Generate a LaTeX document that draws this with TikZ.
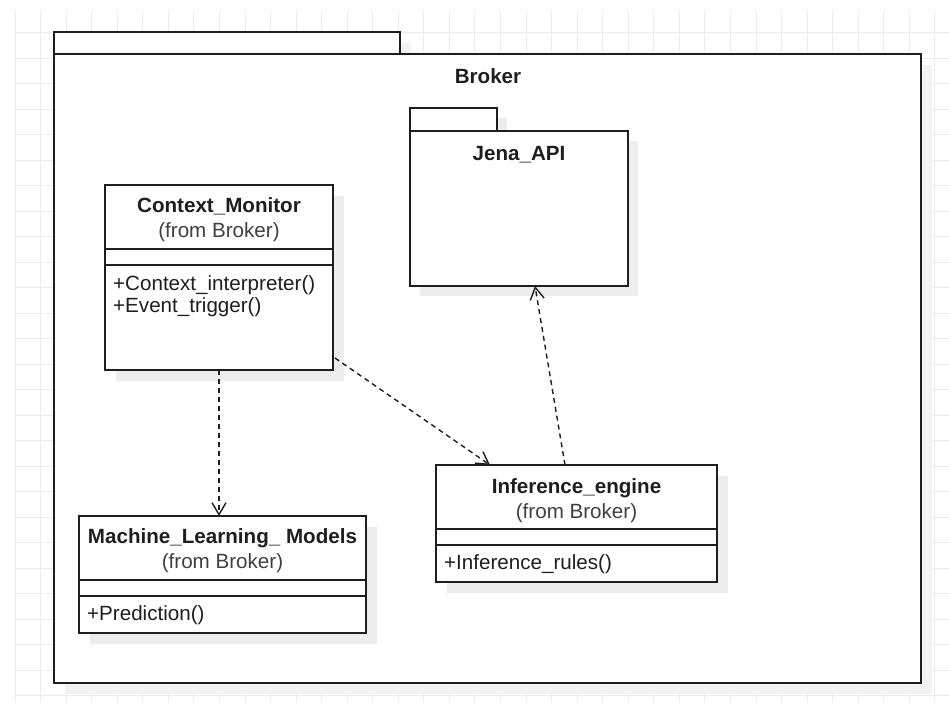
\documentclass[tikz,border=0pt]{standalone}
\usepackage{fontspec}
\setmainfont{Liberation Sans}
\usetikzlibrary{arrows.meta,calc}
\definecolor{ink}{HTML}{1E1E1E}
\definecolor{sub}{HTML}{404040}
\definecolor{gridc}{HTML}{EBEBEB}
\definecolor{shadowc}{HTML}{EDEDED}
\definecolor{shadowo}{HTML}{F2F2F2}
\begin{document}
\begin{tikzpicture}[x=1pt,y=-1pt,
  box/.style={draw=ink, line width=1.5pt, fill=white, rectangle, inner sep=0pt, outer sep=0pt, anchor=north west},
  sep/.style={draw=ink, line width=1.5pt},
  title/.style={font=\fontsize{20.6}{24}\selectfont\bfseries, text=ink, anchor=base, inner sep=0pt},
  from/.style={font=\fontsize{20.6}{24}\selectfont, text=sub, anchor=base, inner sep=0pt},
  meth/.style={font=\fontsize{20.6}{24}\selectfont, text=ink, anchor=base west, inner sep=0pt, align=left},
  dep/.style={draw=ink, line width=1.4pt, dash pattern=on 5pt off 4pt, -{Straight Barb[length=12pt,width=14pt,line width=1.4pt]}}
]
\useasboundingbox (0,0) rectangle (949,702);
\fill[white] (0,0) rectangle (949,702);
% grid
\foreach \i in {0,...,36} \draw[gridc, line width=0.9pt] ({15+25.55*\i},11) -- ({15+25.55*\i},702);
\foreach \j in {1,...,27} \draw[gridc, line width=0.9pt] (15,{7+25.5*\j}) -- (949,{7+25.5*\j});

% Broker package
\fill[shadowo] (65,43) rectangle (411,65);
\fill[shadowo] (65,65) rectangle (932,694);
\node[box, minimum width=346pt, minimum height=22pt] (brokerTab) at (54,32) {};
\node[box, minimum width=867pt, minimum height=629pt] (broker) at (54,54) {};
\node[title] (brokerT) at (488,83) {Broker};

% Jena_API package
\fill[shadowc] (420,118) rectangle (507,141);
\fill[shadowc] (420,141) rectangle (638,296);
\node[box, minimum width=87pt, minimum height=23pt] (jenaTab) at (410,108) {};
\node[box, minimum width=218pt, minimum height=155pt] (jena) at (410,131) {};
\node[title] (jenaT) at (519,160) {Jena\_API};

% Context_Monitor
\fill[shadowc] (116,196) rectangle (344,381);
\node[box, minimum width=228pt, minimum height=185pt] (cm) at (105,185) {};
\node[title] (cmT) at (219,212) {Context\_Monitor};
\node[from] (cmF) at (219,237) {(from Broker)};
\draw[sep] ($(cm.north west)+(0,64)$) -- ($(cm.north east)+(0,64)$);
\draw[sep] ($(cm.north west)+(0,80)$) -- ($(cm.north east)+(0,80)$);
\node[meth] (cmM1) at (113,290) {+Context\_interpreter()};
\node[meth] (cmM2) at (113,312) {+Event\_trigger()};

% Machine_Learning_ Models
\fill[shadowc] (90,527) rectangle (377,644);
\node[box, minimum width=287pt, minimum height=117pt] (ml) at (79,516) {};
\node[title] (mlT) at (222.5,543) {Machine\_Learning\_ Models};
\node[from] (mlF) at (222.5,568) {(from Broker)};
\draw[sep] ($(ml.north west)+(0,64)$) -- ($(ml.north east)+(0,64)$);
\draw[sep] ($(ml.north west)+(0,80)$) -- ($(ml.north east)+(0,80)$);
\node[meth] (mlM1) at (87,620) {+Prediction()};

% Inference_engine
\fill[shadowc] (447,476) rectangle (728,593);
\node[box, minimum width=281pt, minimum height=117pt] (ie) at (436,465) {};
\node[title] (ieT) at (576.5,493) {Inference\_engine};
\node[from] (ieF) at (576.5,518) {(from Broker)};
\draw[sep] ($(ie.north west)+(0,64)$) -- ($(ie.north east)+(0,64)$);
\draw[sep] ($(ie.north west)+(0,80)$) -- ($(ie.north east)+(0,80)$);
\node[meth] (ieM1) at (444,569) {+Inference\_rules()};

% dependencies
\draw[dep] (cm.south) -- (cm.south |- ml.north);
\coordinate (a2s) at (335,358);
\draw[dep] (a2s) -- ($(ie.north west)+(54,0)$);
\draw[dep] ($(ie.north west)+(129,0)$) -- ($(jena.south west)+(125,0)$);
\end{tikzpicture}
\end{document}
